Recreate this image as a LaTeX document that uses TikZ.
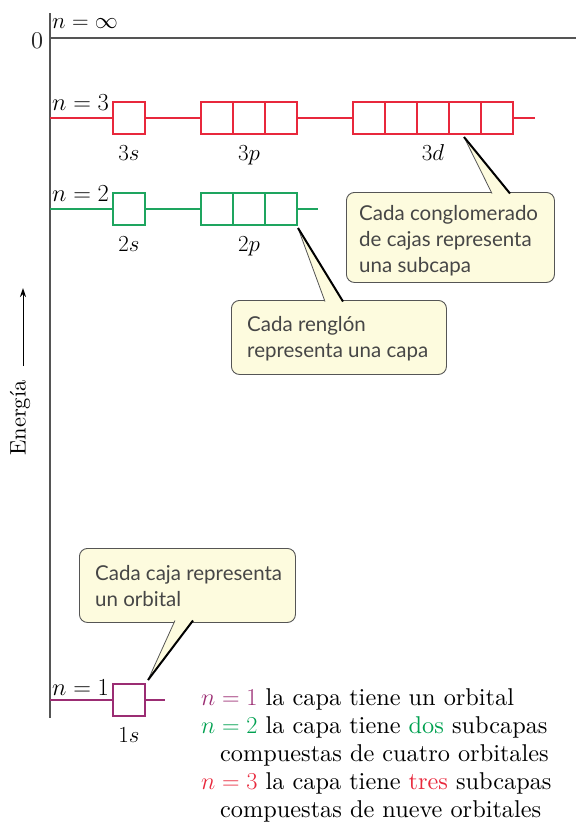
\RequirePackage{fix-cm}
\documentclass[tikz,border=0pt]{standalone}
\usepackage{fontspec}
\setmainfont{lmroman10-regular.otf}[ItalicFont=lmroman10-italic.otf, BoldFont=lmroman10-bold.otf]
\newfontfamily\callfont{Lato}
\usetikzlibrary{arrows.meta}
\definecolor{cred}{RGB}{232,40,60}
\definecolor{cgreen}{RGB}{30,165,95}
\definecolor{tgreen}{RGB}{0,160,80}
\definecolor{cpurple}{RGB}{155,45,115}
\definecolor{axgray}{RGB}{85,85,85}
\definecolor{callfill}{RGB}{253,251,222}
\definecolor{calltext}{RGB}{70,70,70}
\begin{document}
\begin{tikzpicture}[x=1pt,y=-1pt,
  orb/.style={draw, fill=white, minimum width=32pt, minimum height=32pt, inner sep=0pt, line width=1.1pt},
  lvl/.style={line width=1.1pt},
  nlab/.style={anchor=base west, inner sep=0pt, font=\fontsize{24.5}{26}\selectfont},
  blab/.style={anchor=base, inner sep=0pt, font=\fontsize{23}{26}\selectfont},
  callbox/.style={draw=axgray, line width=0.9pt, fill=callfill, rounded corners=8pt, anchor=north west, inner sep=0pt},
  calltxt/.style={anchor=base west, inner sep=0pt, align=left, text=calltext, font=\callfont\fontsize{20.5}{26}\selectfont},
  ptrfill/.style={fill=callfill},
  ptrthin/.style={draw=axgray, line width=0.8pt},
  ptrthick/.style={draw=black, line width=2pt},
  btxt/.style={anchor=base west, inner sep=0pt, font=\fontsize{24.3}{28}\selectfont}
]
\useasboundingbox (0,0) rectangle (576,823);

% axes
\coordinate (axtop) at (50,13);
\coordinate (axbot) at (50,718);
\coordinate (zl) at (50,38);
\coordinate (zr) at (576,38);
\draw[axgray, line width=2pt] (axtop) -- (axbot);
\draw[axgray, line width=2pt] (zl) -- (zr);
\node[anchor=base, inner sep=0pt, font=\fontsize{24}{26}\selectfont, text=black!85] (zero) at (37,48) {0};
\node[nlab, font=\fontsize{23}{26}\selectfont] (ninf) at (52,28) {$n = \infty$};

% energy label
\node[rotate=90, inner sep=0pt, font=\fontsize{22.5}{26}\selectfont] (en) at (20,418) {Energía};
\coordinate (ea1) at (23,366);
\coordinate (ea2) at (23,288);
\draw[line width=1pt, -{Stealth[length=9pt,width=6pt]}] (ea1) -- (ea2);

% n = 3
\coordinate (l3a) at (50,118);
\coordinate (l3b) at (535,118);
\draw[lvl, cred] (l3a) -- (l3b);
\node[orb, draw=cred] (s3) at (129,118) {};
\foreach \i/\x in {1/217,2/249,3/281} \node[orb, draw=cred] (p3\i) at (\x,118) {};
\foreach \i/\x in {1/369,2/401,3/433,4/465,5/497} \node[orb, draw=cred] (d3\i) at (\x,118) {};
\node[nlab] (n3) at (52,110) {$n = 3$};
\node[blab] (l3s) at (129,160) {$3s$};
\node[blab] (l3p) at (249,160) {$3p$};
\node[blab] (l3d) at (433,160) {$3d$};

% n = 2
\coordinate (l2a) at (50,209);
\coordinate (l2b) at (318,209);
\draw[lvl, cgreen] (l2a) -- (l2b);
\node[orb, draw=cgreen] (s2) at (129,209) {};
\foreach \i/\x in {1/217,2/249,3/281} \node[orb, draw=cgreen] (p2\i) at (\x,209) {};
\node[nlab] (n2) at (52,201) {$n = 2$};
\node[blab] (l2s) at (129,251) {$2s$};
\node[blab] (l2p) at (249,251) {$2p$};

% n = 1
\coordinate (l1a) at (50,700);
\coordinate (l1b) at (165,700);
\draw[lvl, cpurple] (l1a) -- (l1b);
\node[orb, draw=cpurple] (s1) at (129,700) {};
\node[nlab] (n1) at (52,695) {$n = 1$};
\node[blab] (l1s) at (129,742) {$1s$};

% callout 1
\node[callbox, minimum width=208pt, minimum height=90pt] (c1) at (346,192) {};
\node[calltxt] (c1x) at (359,272) {Cada conglomerado\\de cajas representa\\una subcapa};
\coordinate (c1t) at (464,137);
\coordinate (c1a) at (492,193.5);
\coordinate (c1b) at (510,193.5);
\fill[ptrfill] (c1a) -- (c1t) -- (c1b) -- cycle;
\draw[ptrthin] (c1a) -- (c1t);
\draw[ptrthick] (c1t) -- (c1b);

% callout 2
\node[callbox, minimum width=215pt, minimum height=74pt] (c2) at (231,300) {};
\node[calltxt] (c2x) at (247,357) {Cada renglón\\representa una capa};
\coordinate (c2t) at (298,228);
\coordinate (c2a) at (325,301.5);
\coordinate (c2b) at (343,301.5);
\fill[ptrfill] (c2a) -- (c2t) -- (c2b) -- cycle;
\draw[ptrthin] (c2a) -- (c2t);
\draw[ptrthick] (c2t) -- (c2b);

% callout 3
\node[callbox, minimum width=216pt, minimum height=74pt] (c3) at (79,548) {};
\node[calltxt] (c3x) at (95,606) {Cada caja representa\\un orbital};
\coordinate (c3t) at (148,680);
\coordinate (c3a) at (175,620.5);
\coordinate (c3b) at (193,620.5);
\fill[ptrfill] (c3a) -- (c3t) -- (c3b) -- cycle;
\draw[ptrthin] (c3a) -- (c3t);
\draw[ptrthick] (c3t) -- (c3b);

% bottom text
\node[btxt] (t1) at (201,705) {\textcolor{cpurple}{$n = 1$} la capa tiene un orbital};
\node[btxt] (t2) at (201,733) {\textcolor{tgreen}{$n = 2$} la capa tiene \textcolor{tgreen}{dos} subcapas};
\node[btxt] (t3) at (220,761) {compuestas de cuatro orbitales};
\node[btxt] (t4) at (201,789) {\textcolor{cred}{$n = 3$} la capa tiene \textcolor{cred}{tres} subcapas};
\node[btxt] (t5) at (220,817) {compuestas de nueve orbitales};
\end{tikzpicture}
\end{document}
